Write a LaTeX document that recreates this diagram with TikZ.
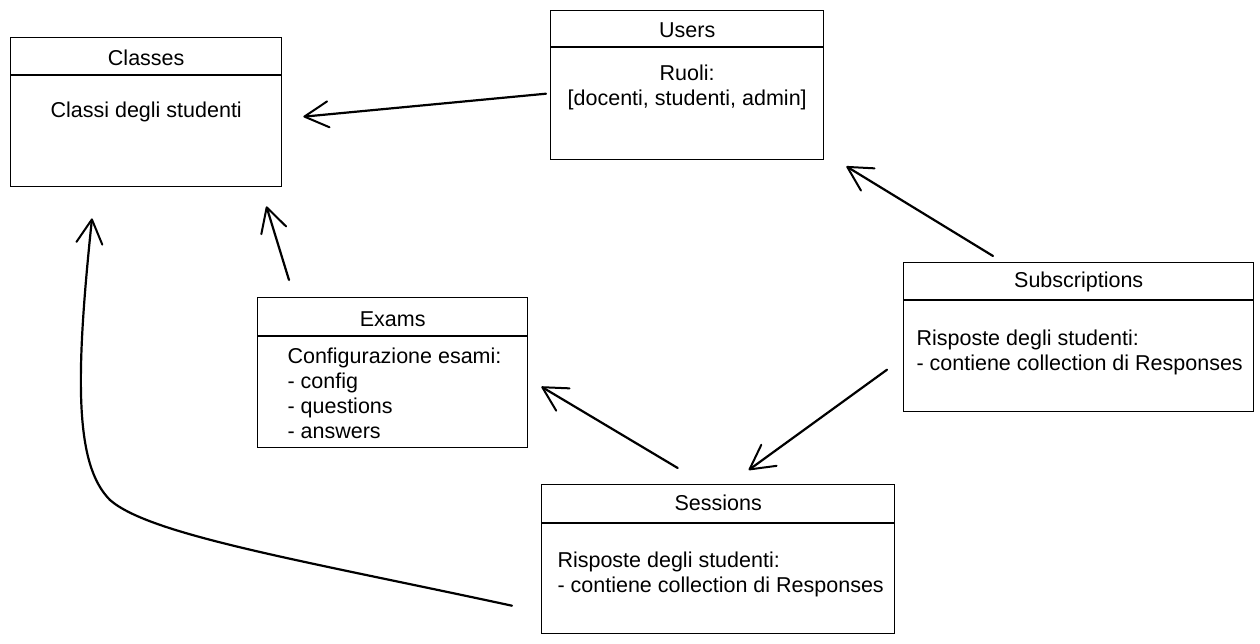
\documentclass[tikz,border=0pt]{standalone}
\usepackage{fontspec}
\setmainfont{Liberation Sans}
\usetikzlibrary{arrows.meta}

\begin{document}
\begin{tikzpicture}[x=1pt,y=-1pt,
    tbl/.style={draw, line width=1.4pt, anchor=north west, inner sep=0pt},
    ttl/.style={font=\fontsize{21.5}{25}\selectfont},
    txt/.style={font=\fontsize{21.5}{25}\selectfont, align=left, anchor=west},
    link/.style={line width=2.2pt, line cap=round, line join=round,
        -{Straight Barb[length=24pt,width=26pt,line width=2pt,round]}}]

                \useasboundingbox (0,0) rectangle (1260,644);

                % tables
                \node[tbl, minimum width=271, minimum height=149] (classes) at (10,37) {};
                \node[tbl, minimum width=273, minimum height=149] (users) at (550,10) {};
                \node[tbl, minimum width=350, minimum height=149] (subs) at (903,262) {};
                \node[tbl, minimum width=270, minimum height=150] (exams) at (257,297) {};
                \node[tbl, minimum width=353, minimum height=149] (sess) at (541,484) {};

                \foreach \n/\h in {classes/38, users/37, subs/38, exams/39, sess/39}
                    \draw[line width=1.4pt] ([shift={(0,\h)}]\n.north west) -- ([shift={(0,\h)}]\n.north east);

                % titles
                \node[ttl] (classes-t) at ([shift={(0,21)}]classes.north) {Classes};
                \node[ttl] (users-t) at ([shift={(0,20)}]users.north) {Users};
                \node[ttl] (subs-t) at ([shift={(0,20)}]subs.north) {Subscriptions};
                \node[ttl] (exams-t) at ([shift={(0,22)}]exams.north) {Exams};
                \node[ttl] (sess-t) at ([shift={(0,19)}]sess.north) {Sessions};

                % contents
                \node[ttl] (classes-b) at ([shift={(0,75)}]classes.north) {Classi degli studenti};
                \node[ttl, align=center] (users-b) at ([shift={(0,77)}]users.north)
                    {Ruoli:\\{[}docenti, studenti, admin{]}};
                \node[txt] (subs-b) at ([shift={(10,90)}]subs.north west)
                    {Risposte degli studenti:\\- contiene collection di Responses};
                \node[txt] (exams-b) at ([shift={(27,96)}]exams.north west)
                    {Configurazione esami:\\- config\\- questions\\- answers};
                \node[txt] (sess-b) at ([shift={(13,90)}]sess.north west)
                    {Risposte degli studenti:\\- contiene collection di Responses};

                % relations
                \draw[link] ([shift={(-4,8.5)}]users.west) -- ([shift={(21,4.5)}]classes.east);
                \draw[link] ([shift={(90,-6)}]subs.north west) -- ([shift={(22,6)}]users.south east);
                \draw[link] ([shift={(-16,32.5)}]subs.west) -- ([shift={(30.5,-14)}]sess.north);
                \draw[link] ([shift={(-40.5,-16)}]sess.north) -- ([shift={(13,14)}]exams.east);
                \draw[link] ([shift={(32,-17)}]exams.north west) -- ([shift={(-16,19)}]classes.south east);

                \coordinate (bend) at (110,500);
                \draw[link] ([shift={(-29,46.5)}]sess.west) .. controls (300,560) and (150,535) .. (bend)
                    .. controls (75,465) and (75,380) .. ([shift={(82,31)}]classes.south west);
            \end{tikzpicture}
\end{document}
